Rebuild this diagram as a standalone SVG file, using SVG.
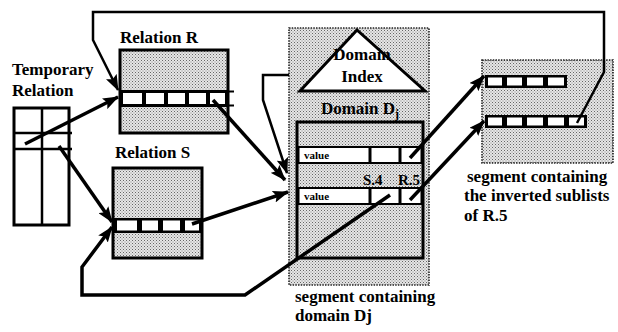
<svg xmlns="http://www.w3.org/2000/svg" width="618" height="332" viewBox="0 0 618 332">
<defs>
<pattern id="dots" width="3" height="3" patternUnits="userSpaceOnUse">
<rect width="3" height="3" fill="#e6e6e6"/>
<rect x="0" y="0" width="1" height="1" fill="#666"/>
<rect x="1.5" y="1.5" width="1" height="1" fill="#888"/>
</pattern>
<marker id="ah" markerUnits="userSpaceOnUse" markerWidth="16" markerHeight="12" refX="15" refY="6" orient="auto">
<path d="M0,0 L16,6 L0,12 L3,6 z" fill="#000"/>
</marker>
</defs>
<style>
.t{font-family:"Liberation Serif","Times New Roman",serif;font-weight:bold;font-size:17px;fill:#000}
.s{font-family:"Liberation Serif","Times New Roman",serif;font-weight:bold;font-size:11px;fill:#000}
.m{font-family:"Liberation Serif","Times New Roman",serif;font-weight:bold;font-size:15px;fill:#000}
.box{fill:url(#dots);stroke:#000;stroke-width:3}
.seg{fill:url(#dots);stroke:#222;stroke-width:1.6;stroke-dasharray:1.5 1.2}
.cell{fill:#fff}
.ln{fill:none;stroke:#000;stroke-width:3.5;stroke-linejoin:miter}
.thin{fill:none;stroke:#000;stroke-width:2.5}
</style>
<rect width="618" height="332" fill="#fff"/>

<g id="temporary-relation">
<text class="t" x="12" y="75">Temporary</text>
<text class="t" x="12" y="96">Relation</text>
<rect x="14" y="108" width="55" height="117" fill="#fff" stroke="#000" stroke-width="3"/>
<line x1="42" y1="108" x2="42" y2="225" stroke="#000" stroke-width="2.5"/>
<line x1="14" y1="133" x2="72" y2="133" stroke="#000" stroke-width="2.5"/>
<line x1="14" y1="149" x2="72" y2="149" stroke="#000" stroke-width="2.5"/>
</g>

<g id="relation-r">
<text class="t" x="120" y="43">Relation R</text>
<rect class="box" x="120" y="50" width="108" height="83"/>
<rect x="120" y="90" width="108" height="17" fill="#000"/>
<line x1="226" y1="91.5" x2="234" y2="91.5" stroke="#000" stroke-width="2"/>
<line x1="226" y1="105.5" x2="234" y2="105.5" stroke="#000" stroke-width="2"/>
<rect class="cell" x="123" y="93" width="19" height="11"/>
<rect class="cell" x="146" y="93" width="18" height="11"/>
<rect class="cell" x="168" y="93" width="17" height="11"/>
<rect class="cell" x="189" y="93" width="17" height="11"/>
<rect class="cell" x="210" y="93" width="15" height="11"/>
</g>

<g id="relation-s">
<text class="t" x="115" y="158">Relation S</text>
<rect class="box" x="113" y="168" width="89" height="90"/>
<rect x="113" y="218" width="89" height="15" fill="#000"/>
<rect class="cell" x="117" y="220.5" width="20" height="10"/>
<rect class="cell" x="142" y="220.5" width="16" height="10"/>
<rect class="cell" x="163" y="220.5" width="17" height="10"/>
<rect class="cell" x="185" y="220.5" width="14" height="10"/>
</g>

<g id="domain-segment">
<rect class="seg" x="289" y="28" width="140" height="257"/>
<polygon points="357,30 300,91 425,91" fill="#fff" stroke="#000" stroke-width="3" stroke-linejoin="miter"/>
<text class="t" x="362" y="60" text-anchor="middle">Domain</text>
<text class="t" x="362" y="82" text-anchor="middle">Index</text>
<text class="t" x="360" y="114" text-anchor="middle">Domain D<tspan font-size="12" dy="4">j</tspan></text>
<rect x="297" y="122" width="126" height="136" fill="url(#dots)" stroke="#000" stroke-width="3"/>
<rect x="298.5" y="147" width="123" height="16" fill="#fff" stroke="#000" stroke-width="2"/>
<line x1="370" y1="147" x2="370" y2="163" stroke="#000" stroke-width="3"/>
<line x1="400" y1="147" x2="400" y2="163" stroke="#000" stroke-width="3"/>
<text class="s" x="304" y="159">value</text>
<text class="m" x="363" y="185">S.4</text>
<text class="m" x="398" y="185">R.5</text>
<rect x="298.5" y="188" width="123" height="16" fill="#fff" stroke="#000" stroke-width="2"/>
<line x1="370" y1="188" x2="370" y2="204" stroke="#000" stroke-width="3"/>
<line x1="400" y1="188" x2="400" y2="204" stroke="#000" stroke-width="3"/>
<text class="s" x="304" y="200">value</text>
<text class="t" x="295" y="302">segment containing</text>
<text class="t" x="295" y="321">domain Dj</text>
</g>

<g id="sublist-segment">
<rect class="seg" x="482" y="60" width="131" height="103"/>
<rect x="485" y="75" width="82" height="13" fill="#000"/>
<rect class="cell" x="488" y="77.5" width="14" height="8"/>
<rect class="cell" x="507" y="77.5" width="15" height="8"/>
<rect class="cell" x="527" y="77.5" width="16" height="8"/>
<rect class="cell" x="548" y="77.5" width="16" height="8"/>
<rect x="485" y="115" width="102" height="13" fill="#000"/>
<rect class="cell" x="488" y="117.5" width="14" height="8"/>
<rect class="cell" x="507" y="117.5" width="15" height="8"/>
<rect class="cell" x="527" y="117.5" width="16" height="8"/>
<rect class="cell" x="548" y="117.5" width="16" height="8"/>
<rect class="cell" x="569" y="117.5" width="15" height="8"/>
<text class="t" x="467" y="182">segment containing</text>
<text class="t" x="464" y="201">the inverted sublists</text>
<text class="t" x="464" y="221">of R.5</text>
</g>

<g id="connectors">
<line class="ln" x1="25" y1="144" x2="118" y2="97" marker-end="url(#ah)"/>
<line class="ln" x1="59" y1="146" x2="112" y2="222" marker-end="url(#ah)"/>
<polyline class="thin" points="577,123 604,72 604,12 93,12 93,40 118,90" marker-end="url(#ah)"/>
<line class="ln" x1="213" y1="100" x2="285" y2="180" marker-end="url(#ah)"/>
<polyline class="thin" points="289,75 263,75 263,100 287,173" marker-end="url(#ah)"/>
<line class="ln" x1="192" y1="224" x2="288" y2="192" marker-end="url(#ah)"/>
<line class="ln" x1="410" y1="158" x2="484" y2="76" marker-end="url(#ah)"/>
<line class="ln" x1="410" y1="200" x2="484" y2="121" marker-end="url(#ah)"/>
<polyline class="ln" points="390,195 245,295 82,295 82,267 112,227" marker-end="url(#ah)"/>
</g>
</svg>
